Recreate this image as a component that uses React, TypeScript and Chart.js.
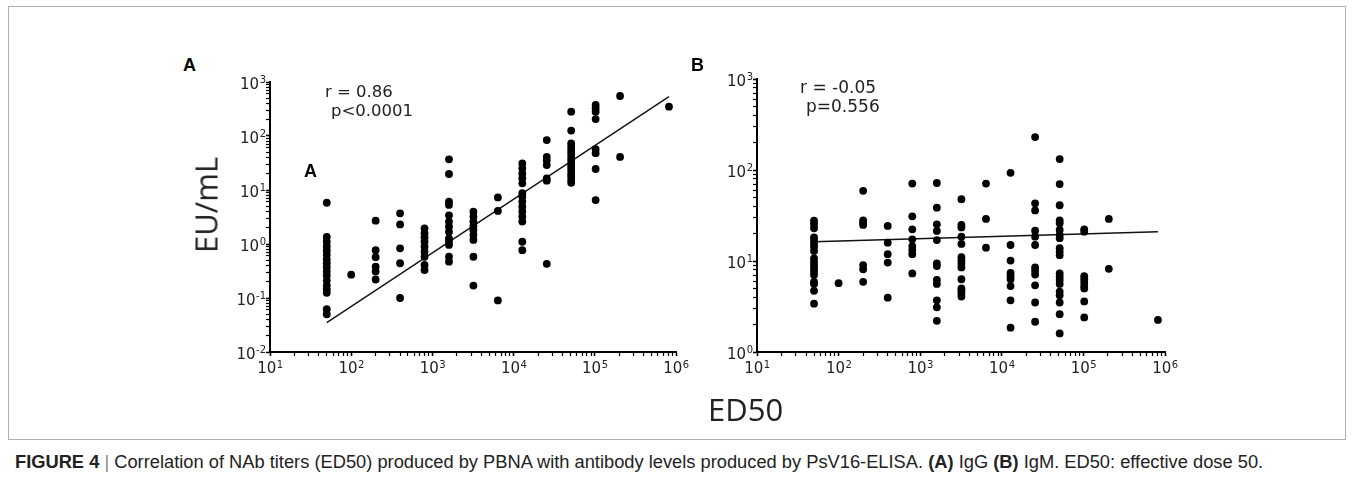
import React, { useEffect, useRef } from "react";
import { Chart, registerables } from "chart.js";

Chart.register(...registerables);

// ED50 dilution levels (x categories on a log axis)
const ED50_LEVELS = [50, 100, 200, 400, 800, 1600, 3200, 6400, 12800, 25600, 51200, 102400, 204800, 819200];

// Panel A – IgG (EU/mL), one list per ED50 level
const IGG_EU: number[][] = [
  [5.8, 1.35, 1.1, 0.9, 0.75, 0.63, 0.52, 0.44, 0.37, 0.31, 0.26, 0.21, 0.17, 0.145, 0.125, 0.062, 0.05],
  [0.27],
  [2.7, 0.77, 0.57, 0.38, 0.31, 0.22],
  [3.7, 2.3, 0.83, 0.44, 0.1],
  [1.95, 1.58, 1.33, 1.1, 0.89, 0.72, 0.58, 0.41, 0.33],
  [37, 19.8, 6.1, 5.3, 3.4, 2.6, 2.1, 1.69, 1.27, 1.1, 0.96, 0.58, 0.47],
  [3.96, 3.2, 2.6, 2.15, 1.8, 1.47, 1.19, 0.58, 0.17],
  [7.3, 4.1, 0.09],
  [31, 25, 20, 16.5, 13.3, 8.7, 7.5, 6.1, 4.9, 4.0, 3.2, 2.6, 1.1, 0.77],
  [84, 41, 35, 29, 16.4, 14.9, 0.43],
  [282, 126, 73, 63, 55, 48, 41, 36, 31, 27, 23.5, 20, 17.7, 15.3, 13.6],
  [375, 326, 282, 206, 57, 48, 24.5, 6.5],
  [551, 41],
  [349],
];

// Panel B – IgM (EU/mL), one list per ED50 level
const IGM_EU: number[][] = [
  [27.7, 25.5, 22.9, 18.2, 17, 15.6, 14.4, 12.9, 10.7, 9.8, 9.0, 8.3, 7.6, 7.0, 5.9, 5.6, 4.7, 3.4],
  [5.7],
  [59, 28, 26.4, 24.9, 9.0, 8.1, 5.9],
  [24.3, 15.9, 11.9, 9.6, 3.95],
  [71, 31, 22.3, 17.3, 14.6, 13.2, 11.9, 7.3],
  [72, 38.5, 25.3, 21.4, 17, 9.4, 8.8, 6.2, 5.6, 3.7, 3.1, 2.2],
  [47.7, 24.9, 23.4, 18.5, 15.4, 11, 10.1, 9.3, 8.5, 6.3, 5.0, 4.7, 4.4, 4.06],
  [71, 29, 14],
  [93, 15, 10.1, 7.4, 6.8, 6.3, 5.3, 3.7, 1.85],
  [230, 43, 36, 21.5, 18.5, 15, 8.5, 7.8, 7.1, 5.4, 3.5, 2.15],
  [132, 70, 41, 28, 26, 21.9, 19.3, 17.8, 13.8, 12.7, 11.6, 7.3, 6.7, 6.2, 5.6, 4.6, 4.2, 3.5, 2.6, 1.6],
  [22.3, 21, 6.8, 6.3, 5.8, 5.3, 5.0, 3.6, 2.4],
  [29, 8.2],
  [2.25],
];

// Regression lines (end points)
const IGG_FIT_X = [50, 819200];
const IGG_FIT_Y = [0.035, 535];
const IGM_FIT_X = [50, 819200];
const IGM_FIT_Y = [16.3, 21];

// Axis ticks: major values and their exponent labels (drawn as 10 + superscript)
const TICK_BASE = "10";
const X_MAJOR = [10, 100, 1000, 10000, 100000, 1000000];
const X_EXPONENTS = ["1", "2", "3", "4", "5", "6"];
const IGG_Y_MAJOR = [0.01, 0.1, 1, 10, 100, 1000];
const IGG_Y_EXPONENTS = ["-2", "-1", "0", "1", "2", "3"];
const IGM_Y_MAJOR = [1, 10, 100, 1000];
const IGM_Y_EXPONENTS = ["0", "1", "2", "3"];

function withMinor(majors: number[]): number[] {
  const out: number[] = [];
  for (let i = 0; i < majors.length; i++) {
    out.push(majors[i]);
    if (i < majors.length - 1) {
      for (let m = 2; m <= 9; m++) out.push(parseFloat((majors[i] * m).toPrecision(6)));
    }
  }
  return out;
}

function toPoints(levels: number[], values: number[][]) {
  const pts: { x: number; y: number }[] = [];
  levels.forEach((lv, i) => values[i].forEach((v) => pts.push({ x: lv, y: v })));
  return pts;
}

const BASE_FONT = "15px 'DejaVu Sans'";
const EXP_FONT = "10px 'DejaVu Sans'";

// Draws "10" with a superscript exponent at each major tick, positioned through the chart's scales
const expLabelsPlugin = {
  id: "expLabels",
  afterDraw(chart: any, _args: any, opts: any) {
    const ctx = chart.ctx as CanvasRenderingContext2D;
    const xs = chart.scales.x;
    const ys = chart.scales.y;
    ctx.save();
    ctx.fillStyle = "#222";
    ctx.textBaseline = "alphabetic";
    // x axis
    const axisY = chart.chartArea.bottom;
    opts.xMajor.forEach((v: number, i: number) => {
      const px = xs.getPixelForValue(v);
      ctx.font = BASE_FONT;
      const wb = ctx.measureText(TICK_BASE).width;
      ctx.font = EXP_FONT;
      const we = ctx.measureText(opts.xExp[i]).width;
      const start = px - (wb + we) / 2;
      ctx.font = BASE_FONT;
      ctx.textAlign = "left";
      ctx.fillText(TICK_BASE, start, axisY + 21);
      ctx.font = EXP_FONT;
      ctx.fillText(opts.xExp[i], start + wb + 0.5, axisY + 15.5);
    });
    // y axis
    const axisX = chart.chartArea.left;
    opts.yMajor.forEach((v: number, i: number) => {
      const py = ys.getPixelForValue(v);
      ctx.font = EXP_FONT;
      const we = ctx.measureText(opts.yExp[i]).width;
      ctx.textAlign = "right";
      ctx.fillText(opts.yExp[i], axisX - 4, py + 1);
      ctx.font = BASE_FONT;
      ctx.fillText(TICK_BASE, axisX - 4.5 - we, py + 7);
    });
    ctx.restore();
  },
};

function makeAxis(majors: number[], fitSize: number, horizontal: boolean) {
  const all = withMinor(majors);
  return {
    type: "logarithmic" as const,
    min: majors[0],
    max: majors[majors.length - 1],
    afterBuildTicks: (scale: any) => {
      scale.ticks = all.map((v) => ({ value: v, major: majors.includes(v) }));
    },
    afterFit: (scale: any) => {
      if (horizontal) scale.height = fitSize;
      else scale.width = fitSize;
    },
    ticks: {
      autoSkip: false,
      maxRotation: 0,
      minRotation: 0,
      padding: 1,
      font: { family: "'DejaVu Sans'", size: 15 },
      callback: () => "",
    },
    grid: {
      display: true,
      drawOnChartArea: false,
      drawTicks: true,
      tickLength: 4,
      color: "#000",
      tickColor: "#000",
      tickWidth: (ctx: any) => (ctx.tick && ctx.tick.major ? 1.6 : 1.2),
    },
    border: { display: true, color: "#000", width: 2 },
  };
}

function ScatterPanel(props: {
  left: number;
  top: number;
  width: number;
  height: number;
  padRight: number;
  yAxisWidth: number;
  xAxisHeight: number;
  values: number[][];
  fitX: number[];
  fitY: number[];
  yMajor: number[];
  yExp: string[];
}) {
  const ref = useRef<HTMLCanvasElement | null>(null);
  useEffect(() => {
    if (!ref.current) return;
    const chart = new Chart(ref.current, {
      type: "scatter",
      data: {
        datasets: [
          {
            data: toPoints(ED50_LEVELS, props.values),
            pointRadius: 3.9,
            pointBackgroundColor: "#000",
            pointBorderWidth: 0,
            backgroundColor: "#000",
          },
          {
            data: props.fitX.map((x, i) => ({ x, y: props.fitY[i] })),
            showLine: true,
            pointRadius: 0,
            borderColor: "#111",
            borderWidth: 1.4,
          },
        ],
      },
      options: {
        responsive: false,
        animation: false,
        devicePixelRatio: 1,
        layout: { padding: { top: 12, left: 0, right: props.padRight, bottom: 0 } },
        plugins: {
          legend: { display: false },
          tooltip: { enabled: false },
          expLabels: { xMajor: X_MAJOR, xExp: X_EXPONENTS, yMajor: props.yMajor, yExp: props.yExp },
        },
        scales: {
          x: makeAxis(X_MAJOR, props.xAxisHeight, true),
          y: makeAxis(props.yMajor, props.yAxisWidth, false),
        },
      } as any,
      plugins: [expLabelsPlugin],
    });
    return () => chart.destroy();
  }, []);
  return (
    <canvas
      ref={ref}
      width={props.width}
      height={props.height}
      style={{ position: "absolute", left: props.left, top: props.top, width: props.width, height: props.height }}
    />
  );
}

function Txt(props: {
  x: number;
  baseline: number;
  size: number;
  family: string;
  weight?: number;
  color?: string;
  children: React.ReactNode;
  ratio?: number;
}) {
  const r = props.ratio ?? 0.846;
  return (
    <div
      style={{
        position: "absolute",
        left: props.x,
        top: props.baseline - r * props.size,
        fontSize: props.size,
        lineHeight: `${props.size}px`,
        fontFamily: props.family,
        fontWeight: props.weight ?? 400,
        color: props.color ?? "#222",
        whiteSpace: "nowrap",
      }}
    >
      {props.children}
    </div>
  );
}

export default function App() {
  const ARIAL = "'Liberation Sans', Arial, sans-serif";
  const DEJAVU = "'DejaVu Sans', sans-serif";
  const OPEN = "'Open Sans', sans-serif";
  return (
    <div
      style={{
        position: "fixed",
        left: 0,
        top: 0,
        width: 1354,
        height: 488,
        background: "#fff",
        overflow: "hidden",
      }}
    >
      <div
        style={{
          position: "absolute",
          left: 8,
          top: 6,
          width: 1338,
          height: 434,
          border: "1px solid #b0b0b0",
          boxSizing: "border-box",
        }}
      />
      <ScatterPanel
        left={200}
        top={70}
        width={500}
        height={320}
        padRight={24}
        yAxisWidth={70}
        xAxisHeight={38}
        values={IGG_EU}
        fitX={IGG_FIT_X}
        fitY={IGG_FIT_Y}
        yMajor={IGG_Y_MAJOR}
        yExp={IGG_Y_EXPONENTS}
      />
      <ScatterPanel
        left={690}
        top={67}
        width={500}
        height={323}
        padRight={25}
        yAxisWidth={67}
        xAxisHeight={38}
        values={IGM_EU}
        fitX={IGM_FIT_X}
        fitY={IGM_FIT_Y}
        yMajor={IGM_Y_MAJOR}
        yExp={IGM_Y_EXPONENTS}
      />
      <Txt x={183} baseline={71} size={18} family={ARIAL} weight={700} color="#000">A</Txt>
      <Txt x={304} baseline={177} size={18} family={ARIAL} weight={700} color="#000">A</Txt>
      <Txt x={691} baseline={71} size={18} family={ARIAL} weight={700} color="#000">B</Txt>
      <Txt x={325} baseline={98} size={16.5} family={DEJAVU}>r = 0.86</Txt>
      <Txt x={331} baseline={117} size={16.5} family={DEJAVU}>p&lt;0.0001</Txt>
      <Txt x={800} baseline={93} size={17} family={DEJAVU}>r = -0.05</Txt>
      <Txt x={806} baseline={112} size={17} family={DEJAVU}>p=0.556</Txt>
      <div
        style={{
          position: "absolute",
          left: 205.5,
          top: 205,
          transform: "translate(-50%, -50%) rotate(-90deg)",
          fontFamily: OPEN,
          fontSize: 31,
          lineHeight: "31px",
          color: "#222",
          whiteSpace: "nowrap",
        }}
      >
        EU/mL
      </div>
      <Txt x={708} baseline={422} size={31} family={OPEN} ratio={0.888}>ED50</Txt>
      <Txt x={15} baseline={468} size={18.3} family={ARIAL} color="#222">
        <b>FIGURE 4</b> <span style={{ color: "#888" }}>|</span> Correlation of NAb titers (ED50) produced by PBNA with
        antibody levels produced by PsV16-ELISA. <b>(A)</b> IgG <b>(B)</b> IgM. ED50: effective dose 50.
      </Txt>
    </div>
  );
}
